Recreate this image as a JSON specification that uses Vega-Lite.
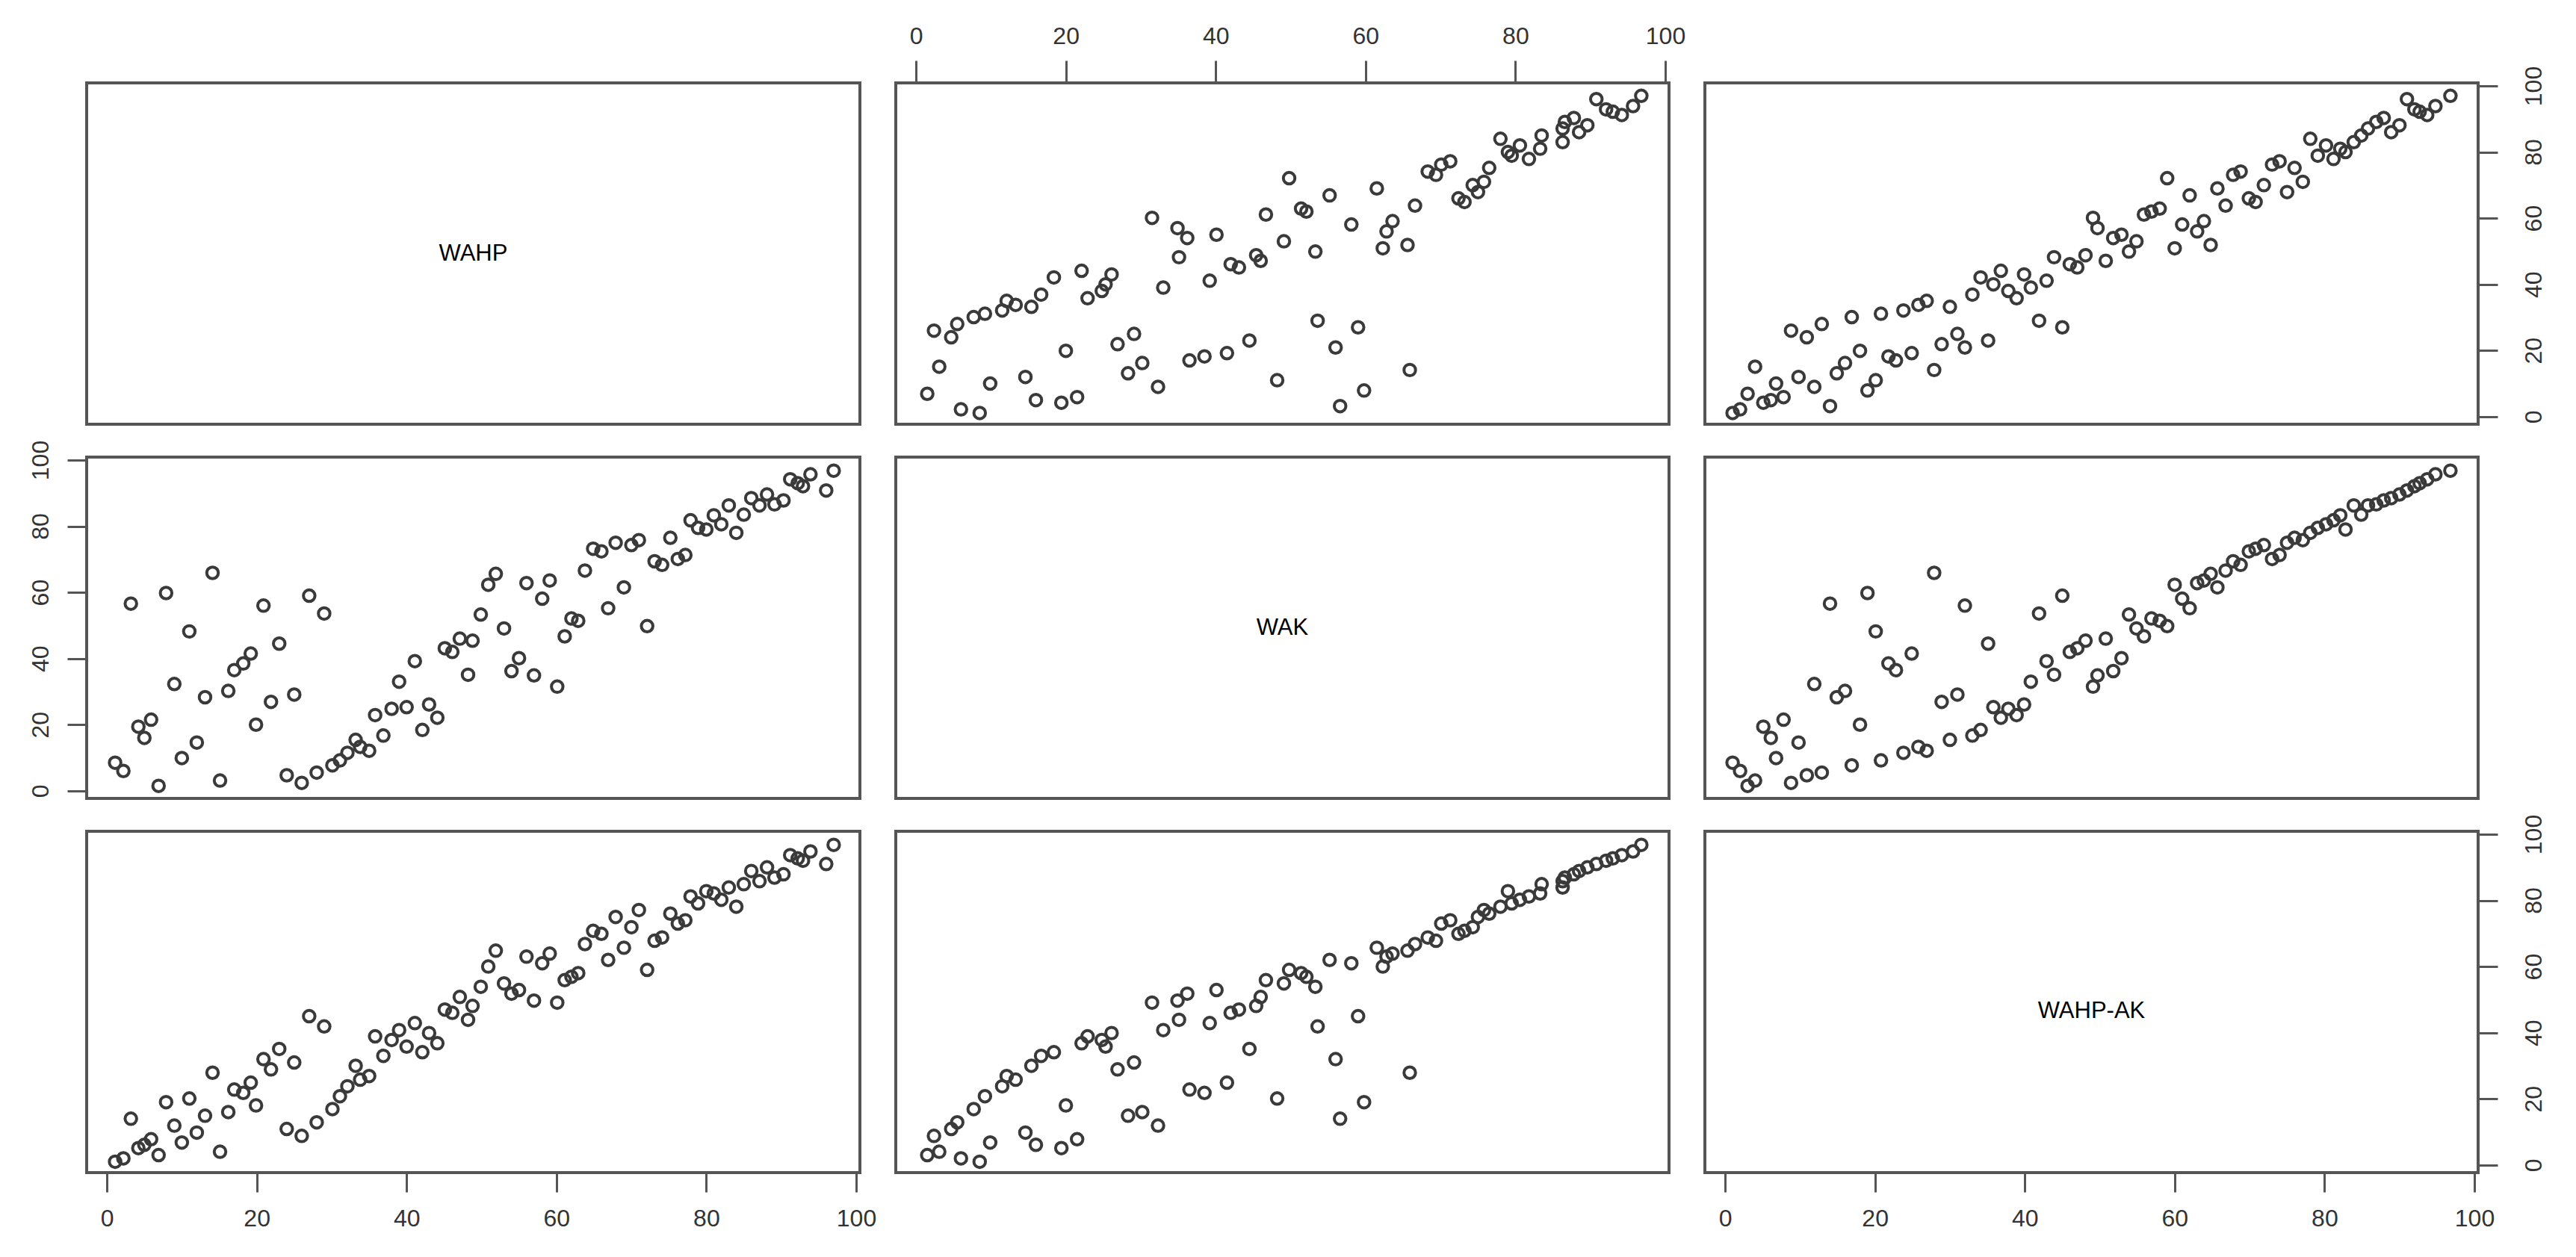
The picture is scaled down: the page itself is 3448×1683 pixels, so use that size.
{
  "$schema": "https://vega.github.io/schema/vega-lite/v6.json",
  "background": "white",
  "autosize": {"type": "pad"},
  "padding": {"left": 35, "top": 30, "right": 10, "bottom": 10},
  "columns": 3,
  "spacing": {"row": 44, "column": 48},
  "bounds": "flush",
  "datasets": {
    "pts": [
      {"WAHP": 1.1, "WAK": 8.5, "WAHPAK": 1.0},
      {"WAHP": 2.2, "WAK": 6.0, "WAHPAK": 2.0},
      {"WAHP": 6.9, "WAK": 1.5, "WAHPAK": 3.0},
      {"WAHP": 15.1, "WAK": 3.1, "WAHPAK": 4.0},
      {"WAHP": 4.2, "WAK": 19.4, "WAHPAK": 5.1},
      {"WAHP": 5.0, "WAK": 16.0, "WAHPAK": 6.1},
      {"WAHP": 10.0, "WAK": 9.9, "WAHPAK": 6.8},
      {"WAHP": 5.9, "WAK": 21.5, "WAHPAK": 7.8},
      {"WAHP": 26.0, "WAK": 2.4, "WAHPAK": 8.8},
      {"WAHP": 12.0, "WAK": 14.6, "WAHPAK": 9.8},
      {"WAHP": 24.0, "WAK": 4.7, "WAHPAK": 10.9},
      {"WAHP": 9.0, "WAK": 32.3, "WAHPAK": 11.9},
      {"WAHP": 28.0, "WAK": 5.5, "WAHPAK": 12.9},
      {"WAHP": 3.2, "WAK": 56.6, "WAHPAK": 14.0},
      {"WAHP": 13.1, "WAK": 28.3, "WAHPAK": 14.9},
      {"WAHP": 16.2, "WAK": 30.2, "WAHPAK": 16.0},
      {"WAHP": 30.1, "WAK": 7.7, "WAHPAK": 16.9},
      {"WAHP": 19.9, "WAK": 20.0, "WAHPAK": 18.0},
      {"WAHP": 7.9, "WAK": 59.8, "WAHPAK": 19.0},
      {"WAHP": 11.0, "WAK": 48.2, "WAHPAK": 20.1},
      {"WAHP": 31.1, "WAK": 9.2, "WAHPAK": 20.8},
      {"WAHP": 18.2, "WAK": 38.5, "WAHPAK": 21.8},
      {"WAHP": 17.0, "WAK": 36.5, "WAHPAK": 22.8},
      {"WAHP": 32.1, "WAK": 11.5, "WAHPAK": 23.8},
      {"WAHP": 19.2, "WAK": 41.5, "WAHPAK": 24.9},
      {"WAHP": 33.8, "WAK": 13.3, "WAHPAK": 25.8},
      {"WAHP": 35.0, "WAK": 12.1, "WAHPAK": 26.9},
      {"WAHP": 14.1, "WAK": 65.9, "WAHPAK": 27.9},
      {"WAHP": 21.9, "WAK": 26.9, "WAHPAK": 28.9},
      {"WAHP": 33.2, "WAK": 15.4, "WAHPAK": 30.0},
      {"WAHP": 25.0, "WAK": 29.1, "WAHPAK": 31.0},
      {"WAHP": 20.9, "WAK": 56.0, "WAHPAK": 32.0},
      {"WAHP": 36.9, "WAK": 16.7, "WAHPAK": 33.0},
      {"WAHP": 42.1, "WAK": 18.4, "WAHPAK": 34.1},
      {"WAHP": 23.0, "WAK": 44.5, "WAHPAK": 35.1},
      {"WAHP": 40.0, "WAK": 25.3, "WAHPAK": 35.8},
      {"WAHP": 44.1, "WAK": 22.1, "WAHPAK": 36.8},
      {"WAHP": 38.0, "WAK": 24.8, "WAHPAK": 37.8},
      {"WAHP": 35.8, "WAK": 22.9, "WAHPAK": 38.9},
      {"WAHP": 43.0, "WAK": 26.1, "WAHPAK": 39.9},
      {"WAHP": 39.0, "WAK": 33.0, "WAHPAK": 40.8},
      {"WAHP": 29.0, "WAK": 53.6, "WAHPAK": 41.9},
      {"WAHP": 41.1, "WAK": 39.2, "WAHPAK": 42.9},
      {"WAHP": 48.2, "WAK": 35.1, "WAHPAK": 43.9},
      {"WAHP": 27.0, "WAK": 59.0, "WAHPAK": 45.0},
      {"WAHP": 46.1, "WAK": 42.0, "WAHPAK": 46.0},
      {"WAHP": 45.1, "WAK": 43.1, "WAHPAK": 47.0},
      {"WAHP": 48.8, "WAK": 45.4, "WAHPAK": 48.1},
      {"WAHP": 60.1, "WAK": 31.5, "WAHPAK": 49.1},
      {"WAHP": 57.0, "WAK": 34.9, "WAHPAK": 49.7},
      {"WAHP": 47.1, "WAK": 46.0, "WAHPAK": 50.8},
      {"WAHP": 54.0, "WAK": 36.2, "WAHPAK": 51.8},
      {"WAHP": 55.0, "WAK": 40.1, "WAHPAK": 52.9},
      {"WAHP": 49.9, "WAK": 53.3, "WAHPAK": 53.9},
      {"WAHP": 53.0, "WAK": 49.1, "WAHPAK": 54.9},
      {"WAHP": 61.1, "WAK": 46.7, "WAHPAK": 55.9},
      {"WAHP": 62.0, "WAK": 52.1, "WAHPAK": 56.9},
      {"WAHP": 62.9, "WAK": 51.4, "WAHPAK": 58.0},
      {"WAHP": 72.1, "WAK": 49.8, "WAHPAK": 59.0},
      {"WAHP": 50.9, "WAK": 62.3, "WAHPAK": 60.0},
      {"WAHP": 58.1, "WAK": 58.1, "WAHPAK": 61.0},
      {"WAHP": 66.9, "WAK": 55.2, "WAHPAK": 62.0},
      {"WAHP": 56.0, "WAK": 62.8, "WAHPAK": 63.0},
      {"WAHP": 59.1, "WAK": 63.6, "WAHPAK": 63.9},
      {"WAHP": 51.9, "WAK": 65.6, "WAHPAK": 64.8},
      {"WAHP": 69.0, "WAK": 61.5, "WAHPAK": 65.7},
      {"WAHP": 63.8, "WAK": 66.6, "WAHPAK": 66.8},
      {"WAHP": 73.1, "WAK": 69.4, "WAHPAK": 67.8},
      {"WAHP": 74.1, "WAK": 68.3, "WAHPAK": 68.8},
      {"WAHP": 66.0, "WAK": 72.4, "WAHPAK": 69.9},
      {"WAHP": 64.9, "WAK": 73.2, "WAHPAK": 70.8},
      {"WAHP": 70.0, "WAK": 74.3, "WAHPAK": 71.9},
      {"WAHP": 76.2, "WAK": 70.1, "WAHPAK": 73.0},
      {"WAHP": 77.2, "WAK": 71.3, "WAHPAK": 74.0},
      {"WAHP": 67.9, "WAK": 75.0, "WAHPAK": 75.0},
      {"WAHP": 75.2, "WAK": 76.5, "WAHPAK": 76.0},
      {"WAHP": 71.0, "WAK": 75.8, "WAHPAK": 77.1},
      {"WAHP": 84.0, "WAK": 78.0, "WAHPAK": 78.1},
      {"WAHP": 78.9, "WAK": 79.5, "WAHPAK": 79.1},
      {"WAHP": 82.0, "WAK": 80.6, "WAHPAK": 80.2},
      {"WAHP": 77.9, "WAK": 81.8, "WAHPAK": 81.2},
      {"WAHP": 81.0, "WAK": 83.3, "WAHPAK": 82.1},
      {"WAHP": 80.0, "WAK": 79.0, "WAHPAK": 82.8},
      {"WAHP": 83.0, "WAK": 86.3, "WAHPAK": 83.9},
      {"WAHP": 85.0, "WAK": 83.5, "WAHPAK": 84.9},
      {"WAHP": 87.1, "WAK": 86.3, "WAHPAK": 85.8},
      {"WAHP": 89.1, "WAK": 86.6, "WAHPAK": 86.9},
      {"WAHP": 90.3, "WAK": 87.8, "WAHPAK": 87.9},
      {"WAHP": 86.0, "WAK": 88.5, "WAHPAK": 88.9},
      {"WAHP": 88.1, "WAK": 89.6, "WAHPAK": 90.0},
      {"WAHP": 96.0, "WAK": 90.8, "WAHPAK": 91.0},
      {"WAHP": 92.9, "WAK": 92.1, "WAHPAK": 92.0},
      {"WAHP": 92.2, "WAK": 93.0, "WAHPAK": 92.7},
      {"WAHP": 91.2, "WAK": 94.2, "WAHPAK": 93.7},
      {"WAHP": 93.9, "WAK": 95.7, "WAHPAK": 94.8},
      {"WAHP": 97.0, "WAK": 96.8, "WAHPAK": 96.8}
    ]
  },
  "concat": [
    {
      "width": 1035, "height": 457,
      "data": {"values": [{"name": "WAHP"}]},
      "mark": {"type": "text", "fontSize": 31, "font": "Liberation Sans", "color": "black", "align": "center", "baseline": "middle"},
      "encoding": {
        "text": {"field": "name"},
        "x": {"datum": 48.9, "type": "quantitative", "scale": {"domain": [-2.7, 100.5], "nice": false, "zero": false}, "axis": null},
        "y": {"datum": 49.3, "type": "quantitative", "scale": {"domain": [-2.3, 100.9], "nice": false, "zero": false}, "axis": null}
      }
    },
    {
      "width": 1035, "height": 457,
      "data": {"name": "pts"},
      "mark": {"type": "point", "shape": "circle", "filled": false, "size": 240, "strokeWidth": 4, "color": "#3a3a3a", "opacity": 1},
      "encoding": {
        "x": {"field": "WAK", "type": "quantitative", "scale": {"domain": [-2.7, 100.5], "nice": false, "zero": false}, "axis": {"orient": "top", "values": [0, 20, 40, 60, 80, 100], "tickSize": 30, "labelPadding": 16}},
        "y": {"field": "WAHP", "type": "quantitative", "scale": {"domain": [-2.3, 100.9], "nice": false, "zero": false}, "axis": null}
      }
    },
    {
      "width": 1035, "height": 457,
      "data": {"name": "pts"},
      "mark": {"type": "point", "shape": "circle", "filled": false, "size": 240, "strokeWidth": 4, "color": "#3a3a3a", "opacity": 1},
      "encoding": {
        "x": {"field": "WAHPAK", "type": "quantitative", "scale": {"domain": [-2.7, 100.5], "nice": false, "zero": false}, "axis": null},
        "y": {"field": "WAHP", "type": "quantitative", "scale": {"domain": [-2.3, 100.9], "nice": false, "zero": false}, "axis": {"orient": "right", "values": [0, 20, 40, 60, 80, 100], "labelAngle": -90, "labelAlign": "center", "labelBaseline": "middle", "labelPadding": 48}}
      }
    },
    {
      "width": 1035, "height": 457,
      "data": {"name": "pts"},
      "mark": {"type": "point", "shape": "circle", "filled": false, "size": 240, "strokeWidth": 4, "color": "#3a3a3a", "opacity": 1},
      "encoding": {
        "x": {"field": "WAHP", "type": "quantitative", "scale": {"domain": [-2.7, 100.5], "nice": false, "zero": false}, "axis": null},
        "y": {"field": "WAK", "type": "quantitative", "scale": {"domain": [-2.3, 100.9], "nice": false, "zero": false}, "axis": {"orient": "left", "values": [0, 20, 40, 60, 80, 100], "labelAngle": -90, "labelAlign": "center", "labelBaseline": "middle", "labelPadding": 36}}
      }
    },
    {
      "width": 1035, "height": 457,
      "data": {"values": [{"name": "WAK"}]},
      "mark": {"type": "text", "fontSize": 31, "font": "Liberation Sans", "color": "black", "align": "center", "baseline": "middle"},
      "encoding": {
        "text": {"field": "name"},
        "x": {"datum": 48.9, "type": "quantitative", "scale": {"domain": [-2.7, 100.5], "nice": false, "zero": false}, "axis": null},
        "y": {"datum": 49.3, "type": "quantitative", "scale": {"domain": [-2.3, 100.9], "nice": false, "zero": false}, "axis": null}
      }
    },
    {
      "width": 1035, "height": 457,
      "data": {"name": "pts"},
      "mark": {"type": "point", "shape": "circle", "filled": false, "size": 240, "strokeWidth": 4, "color": "#3a3a3a", "opacity": 1},
      "encoding": {
        "x": {"field": "WAHPAK", "type": "quantitative", "scale": {"domain": [-2.7, 100.5], "nice": false, "zero": false}, "axis": null},
        "y": {"field": "WAK", "type": "quantitative", "scale": {"domain": [-2.3, 100.9], "nice": false, "zero": false}, "axis": null}
      }
    },
    {
      "width": 1035, "height": 457,
      "data": {"name": "pts"},
      "mark": {"type": "point", "shape": "circle", "filled": false, "size": 240, "strokeWidth": 4, "color": "#3a3a3a", "opacity": 1},
      "encoding": {
        "x": {"field": "WAHP", "type": "quantitative", "scale": {"domain": [-2.7, 100.5], "nice": false, "zero": false}, "axis": {"orient": "bottom", "values": [0, 20, 40, 60, 80, 100], "labelPadding": 20}},
        "y": {"field": "WAHPAK", "type": "quantitative", "scale": {"domain": [-2.3, 100.9], "nice": false, "zero": false}, "axis": null}
      }
    },
    {
      "width": 1035, "height": 457,
      "data": {"name": "pts"},
      "mark": {"type": "point", "shape": "circle", "filled": false, "size": 240, "strokeWidth": 4, "color": "#3a3a3a", "opacity": 1},
      "encoding": {
        "x": {"field": "WAK", "type": "quantitative", "scale": {"domain": [-2.7, 100.5], "nice": false, "zero": false}, "axis": null},
        "y": {"field": "WAHPAK", "type": "quantitative", "scale": {"domain": [-2.3, 100.9], "nice": false, "zero": false}, "axis": null}
      }
    },
    {
      "width": 1035, "height": 457,
      "data": {"values": [{"name": "WAHP-AK"}]},
      "mark": {"type": "text", "fontSize": 31, "font": "Liberation Sans", "color": "black", "align": "center", "baseline": "middle"},
      "encoding": {
        "text": {"field": "name"},
        "x": {"datum": 48.9, "type": "quantitative", "scale": {"domain": [-2.7, 100.5], "nice": false, "zero": false}, "axis": {"orient": "bottom", "values": [0, 20, 40, 60, 80, 100], "labelPadding": 20}},
        "y": {"datum": 46.5, "type": "quantitative", "scale": {"domain": [-2.3, 100.9], "nice": false, "zero": false}, "axis": {"orient": "right", "values": [0, 20, 40, 60, 80, 100], "labelAngle": -90, "labelAlign": "center", "labelBaseline": "middle", "labelPadding": 48}}
      }
    }
  ],
  "config": {
    "font": "Liberation Sans",
    "view": {"stroke": "#555555", "strokeWidth": 4},
    "axis": {
      "domain": false,
      "grid": false,
      "ticks": true,
      "tickSize": 26,
      "tickWidth": 3,
      "tickColor": "#555555",
      "labelFont": "Liberation Sans",
      "labelFontSize": 32,
      "labelColor": "#333333",
      "labelFlush": false,
      "labelOverlap": false,
      "title": null
    }
  }
}
